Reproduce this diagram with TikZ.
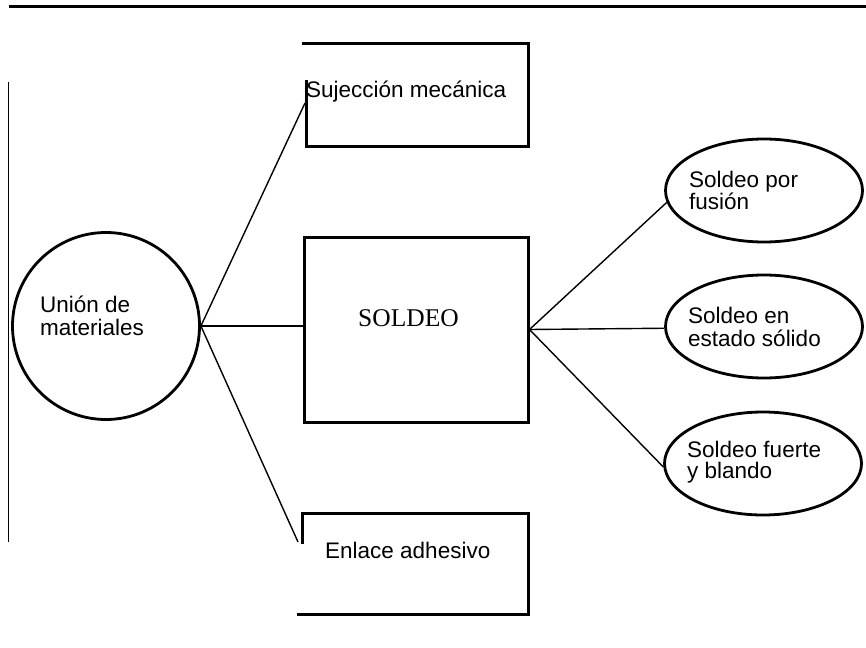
\documentclass[tikz,border=0pt]{standalone}
\usepackage{fontspec}
\usetikzlibrary{shapes.geometric}
\newfontfamily\labelsans{Liberation Sans}
\newfontfamily\labelserif{Liberation Serif}
\tikzset{
  frame/.style={line width=3pt, line cap=rect},
  link/.style={line width=1.4pt},
  bubble/.style={ellipse, draw, line width=2.8pt, minimum width=197pt, minimum height=103pt, inner sep=0pt},
  txt/.style={anchor=base west, inner sep=0pt, font=\labelsans\fontsize{22.5}{23}\selectfont, align=left},
}
\begin{document}
\begin{tikzpicture}[x=1pt,y=-1pt]
  \fill[white] (0,0) rectangle (866,647);
  \useasboundingbox (0,0) rectangle (866,647);

  % rules at the top and left margin
  \draw[line width=3pt] (9,7) -- (866,7);
  \draw[line width=1pt] (8,82) -- (8,542);

  % central concept
  \node[circle, draw, line width=2.8pt, minimum size=187pt, inner sep=0pt] (c) at (106,326) {};
  \node[txt] (ctext) at (40,312) {Unión de};
  \node[txt] (ctext2) at (40,335) {materiales};

  % upper box (left side open at the top)
  \draw[frame] (306,82) -- (306,147) -- (528,147) -- (528,44) -- (303,44);
  \coordinate (sujL) at (305,103);
  \node[txt] (suj) at (306,98) {Sujección mecánica};

  % welding box
  \node[draw, line width=3pt, minimum width=224pt, minimum height=185pt, inner sep=0pt] (sol) at (416,329.5) {};
  \node[anchor=base west, inner sep=0pt, font=\labelserif\fontsize{25.5}{27}\selectfont] (soltext) at (358,326) {SOLDEO};

  % lower box (left side open at the bottom)
  \draw[frame] (302,542) -- (302,513) -- (528,513) -- (528,614) -- (298,614);
  \coordinate (enlL) at (298,542);
  \node[txt] (enl) at (325,558) {Enlace adhesivo};

  % welding processes
  \node[bubble] (e1) at (764,190.5) {};
  \node[txt] (e1t) at (689,187) {Soldeo por};
  \node[txt] (e1u) at (689,209) {fusión};
  \node[bubble] (e2) at (764,326.5) {};
  \node[txt] (e2t) at (688,323) {Soldeo en};
  \node[txt] (e2u) at (688,346) {estado sólido};
  \node[bubble] (e3) at (763,463.5) {};
  \node[txt] (e3t) at (687,457) {Soldeo fuerte};
  \node[txt] (e3u) at (687,478) {y blando};

  % connectors
  \draw[link] (c.east) -- (sujL);
  \draw[link] (c.east) -- (sol.west |- c.east);
  \draw[link] (c.east) -- (enlL);
  \draw[link] (sol.east) -- (e1.187);
  \draw[link] (sol.east) -- (e2.181);
  \draw[link] (sol.east) -- (e3.182);
\end{tikzpicture}
\end{document}
